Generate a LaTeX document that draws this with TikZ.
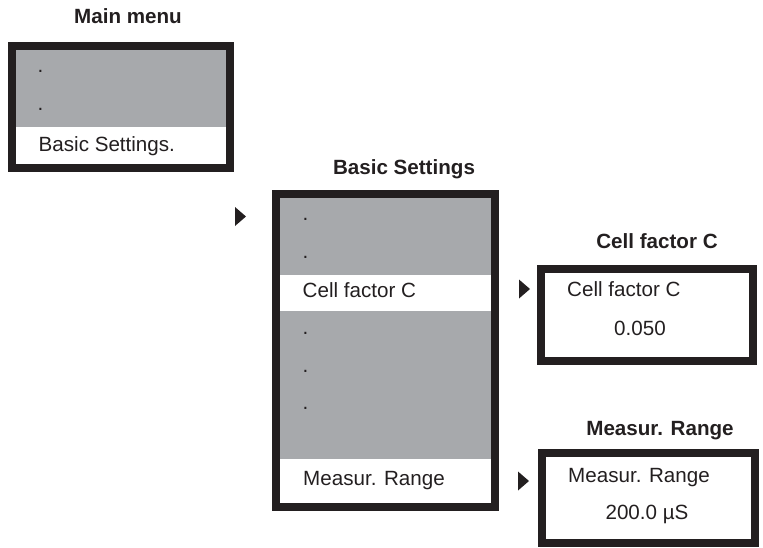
\documentclass[tikz,border=0pt]{standalone}
\usepackage{fontspec}
\setmainfont{Liberation Sans}
\usepackage{xcolor}
\usetikzlibrary{backgrounds,fit,positioning}
\definecolor{frame}{HTML}{231F20}
\definecolor{panel}{HTML}{A7A9AC}

\begin{document}
\begin{tikzpicture}[x=1pt,y=-1pt]
        \tikzstyle{menubox} = [draw=frame,line width=8pt,inner sep=0pt]
        \tikzstyle{band} = [fill=panel,inner sep=0pt,anchor=north west]
        \tikzstyle{title} = [font=\fontsize{20.6}{24}\selectfont\bfseries,text=frame,anchor=base,inner sep=0pt]
        \tikzstyle{item} = [font=\fontsize{20.6}{24}\selectfont,text=frame,anchor=base west,inner sep=0pt]
        \tikzstyle{value} = [font=\fontsize{20.6}{24}\selectfont,text=frame,anchor=base,inner sep=0pt]
        %
        \useasboundingbox (0,0) rectangle (763,547);
        % Main menu.
        \node[title] (tmain) at (128,23) {Main menu};
        \node[menubox,minimum width=218pt,minimum height=122pt] (main) at (121,107) {};
        \node[item] (m1) at (37.5,72.5) {.};
        \node[item] (m2) at (37.5,110.5) {.};
        \node[item] (m3) at (38.5,151) {Basic Settings.};
        % Basic Settings.
        \node[title] (tbasic) at (404,174) {Basic Settings};
        \node[menubox,minimum width=219pt,minimum height=313pt] (basic) at (385.5,350.5) {};
        \node[item] (b1) at (302.5,220.5) {.};
        \node[item] (b2) at (302.5,258.5) {.};
        \node[item] (b3) at (302.5,297) {Cell factor C};
        \node[item] (b4) at (302.5,334.5) {.};
        \node[item] (b5) at (302.5,372.5) {.};
        \node[item] (b6) at (302.5,409.5) {.};
        \node[item] (b7) at (303,485) {Measur. Range};
        % Cell factor C.
        \node[title] (tcell) at (657,248) {Cell factor C};
        \node[menubox,minimum width=212pt,minimum height=92pt] (cell) at (647,315) {};
        \node[item] (c1) at (567,296) {Cell factor C};
        \node[value] (c2) at (640,335) {0.050};
        % Measur. Range.
        \node[title] (trange) at (660,435) {Measur. Range};
        \node[menubox,minimum width=213pt,minimum height=90pt] (range) at (648.5,498) {};
        \node[item] (r1) at (568,482) {Measur. Range};
        \node[value] (r2) at (647,519) {200.0 µS};
        % Pointers.
        \coordinate (p1) at (235,216.5);
        \coordinate (p2) at (519,289);
        \coordinate (p3) at (518,481);
        \foreach \p in {p1,p2,p3}
            \fill[frame] (\p) ++(0,-9.5) -- ++(11,9.5) -- ++(-11,9.5) -- cycle;
        \begin{pgfonlayer}{background}
            % Grey bands behind the frames.
            \node[band,minimum width=210pt,minimum height=77pt] (gmain) at (16,50) {};
            \node[band,minimum width=211pt,minimum height=77pt] (gbasic1) at (280,198) {};
            \node[band,minimum width=211pt,minimum height=148pt] (gbasic2) at (280,311) {};
        \end{pgfonlayer}
        %
\end{tikzpicture}
\end{document}
